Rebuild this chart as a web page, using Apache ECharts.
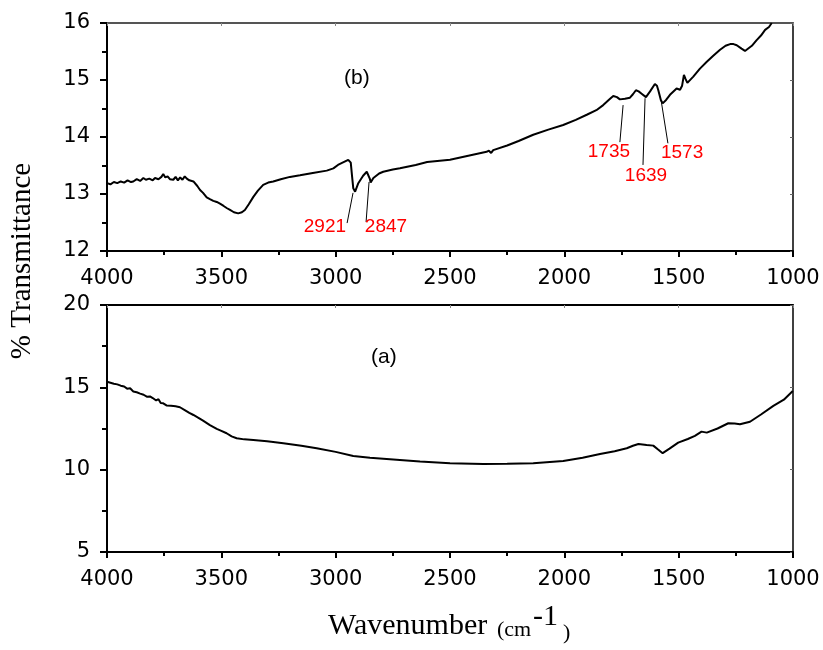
<!DOCTYPE html>
<html><head><meta charset="utf-8">
<script src="https://cdn.jsdelivr.net/npm/echarts@6/dist/echarts.min.js"></script>
<style>html,body{margin:0;padding:0;background:#fff}#c{width:823px;height:650px}</style>
</head><body><div id="c"></div>
<script>
// ---- data ----
const xTicks = [4000, 3500, 3000, 2500, 2000, 1500, 1000];
const topYTicks = [12, 13, 14, 15, 16];
const botYTicks = [5, 10, 15, 20];

const waveB = [4000,3985,3970,3955,3940,3925,3910,3895,3885,3870,3855,3841,3830,3815,3800,3790,3775,3762,3754,3745,3735,3725,3710,3700,3690,3680,3670,3660,3651,3640,3622,3605,3593,3580,3564,3550,3535,3520,3506,3490,3475,3462,3445,3426,3410,3397,3380,3360,3340,3317,3295,3273,3240,3200,3156,3100,3039,3010,2990,2970,2945,2934,2928,2923,2915,2901,2880,2864,2857,2850,2847,2835,2810,2792,2750,2719,2650,2600,2500,2400,2340,2330,2320,2311,2250,2200,2136,2070,2005,1950,1902,1860,1830,1800,1786,1770,1757,1735,1713,1700,1687,1675,1662,1643,1625,1604,1595,1589,1578,1570,1555,1538,1509,1494,1485,1477,1470,1462,1436,1407,1377,1350,1319,1295,1275,1260,1246,1225,1210,1203,1180,1159,1140,1122,1105,1093];
const transB = [13.19,13.17,13.21,13.19,13.22,13.20,13.24,13.21,13.22,13.26,13.23,13.28,13.25,13.27,13.24,13.28,13.26,13.30,13.35,13.29,13.31,13.26,13.25,13.30,13.24,13.29,13.25,13.31,13.27,13.24,13.22,13.14,13.07,13.02,12.94,12.91,12.88,12.86,12.83,12.79,12.75,12.72,12.68,12.66,12.68,12.72,12.82,12.95,13.06,13.16,13.20,13.22,13.26,13.30,13.33,13.37,13.41,13.45,13.51,13.55,13.60,13.55,13.30,13.10,13.04,13.19,13.32,13.39,13.36,13.26,13.20,13.28,13.36,13.39,13.43,13.45,13.51,13.56,13.60,13.69,13.74,13.76,13.72,13.77,13.85,13.93,14.04,14.13,14.21,14.30,14.39,14.47,14.56,14.67,14.72,14.70,14.66,14.67,14.69,14.75,14.82,14.80,14.76,14.70,14.80,14.93,14.90,14.82,14.65,14.59,14.65,14.74,14.85,14.83,14.90,15.09,15.02,14.95,15.06,15.20,15.32,15.42,15.53,15.60,15.63,15.63,15.61,15.55,15.51,15.52,15.60,15.70,15.78,15.88,15.93,16.00];

const waveA = [4000,3985,3970,3955,3940,3925,3912,3899,3885,3870,3855,3840,3826,3812,3800,3785,3775,3765,3754,3740,3720,3700,3681,3660,3640,3622,3600,3580,3550,3520,3500,3477,3455,3433,3400,3360,3300,3229,3150,3083,3000,2923,2850,2719,2631,2500,2354,2250,2136,2005,1920,1844,1780,1727,1700,1676,1640,1611,1590,1570,1540,1502,1460,1429,1400,1377,1330,1283,1255,1232,1188,1140,1086,1040,1001];
const transA = [15.34,15.28,15.22,15.18,15.10,15.05,14.92,14.94,14.75,14.70,14.62,14.55,14.43,14.45,14.35,14.20,14.28,14.05,14.03,13.90,13.88,13.85,13.79,13.62,13.45,13.32,13.15,12.98,12.71,12.48,12.36,12.21,12.02,11.91,11.84,11.80,11.72,11.60,11.45,11.30,11.08,10.83,10.72,10.59,10.49,10.39,10.35,10.36,10.39,10.53,10.72,10.95,11.12,11.30,11.45,11.56,11.50,11.46,11.22,11.00,11.28,11.64,11.86,12.05,12.31,12.25,12.50,12.82,12.80,12.76,12.91,13.35,13.87,14.25,14.78];

// peak annotations (panel b): label, label position, leader line start/end
const peakLabels = ['2921', '2847', '1735', '1639', '1573'];
const peakLabelPos = [[3047, 12.42], [2780, 12.42], [1805, 13.74], [1643, 13.32], [1485, 13.72]];
const peakLeaders = [
  [[2950, 12.49], [2924, 13.02]],
  [[2867, 12.51], [2854, 13.21]],
  [[1757, 13.91], [1743, 14.56]],
  [[1656, 13.51], [1647, 14.68]],
  [[1547, 13.89], [1577, 14.65]]
];
const panelLabels = ['(b)', '(a)'];
const panelLabelPos = [[2907, 15.04], [2789, 16.84]];

// ---- chart ----
const tickFont = {fontFamily: 'DejaVu Sans', fontSize: 21, color: '#000', formatter: v => String(v)};
function mainX(gi) {
  return {
    type: 'value', gridIndex: gi, inverse: true, min: 1000, max: 4000, interval: 500,
    axisLine: {show: true, onZero: false, lineStyle: {color: '#000', width: 2}},
    axisTick: {show: true, inside: false, length: 6, lineStyle: {color: '#000', width: 2}},
    minorTick: {show: true, splitNumber: 2, length: 4, lineStyle: {color: '#000', width: 2}},
    axisLabel: Object.assign({margin: 17}, tickFont),
    splitLine: {show: false}
  };
}
function topX(gi, col) {
  return {
    type: 'value', gridIndex: gi, position: 'top', inverse: true, min: 1000, max: 4000, interval: 500,
    axisLine: {show: true, onZero: false, lineStyle: {color: col, width: 2}},
    axisTick: {show: true, inside: true, length: 3, lineStyle: {color: '#888', width: 1}},
    axisLabel: {show: false}, splitLine: {show: false}
  };
}
function mainY(gi, mn, mx, iv) {
  return {
    type: 'value', gridIndex: gi, min: mn, max: mx, interval: iv,
    axisLine: {show: true, onZero: false, lineStyle: {color: '#000', width: 2}},
    axisTick: {show: true, inside: false, length: 7, lineStyle: {color: '#000', width: 2}},
    minorTick: {show: true, splitNumber: 2, length: 5, lineStyle: {color: '#000', width: 2}},
    axisLabel: Object.assign({margin: 17}, tickFont),
    splitLine: {show: false}
  };
}
function rightY(gi, mn, mx, iv) {
  return {
    type: 'value', gridIndex: gi, position: 'right', min: mn, max: mx, interval: iv,
    axisLine: {show: true, onZero: false, lineStyle: {color: '#000', width: 1.5}},
    axisTick: {show: true, inside: true, length: 3, lineStyle: {color: '#666', width: 1}},
    axisLabel: {show: false}, splitLine: {show: false}
  };
}

const chart = echarts.init(document.getElementById('c'), null, {renderer: 'canvas'});
chart.setOption({
  animation: false,
  backgroundColor: '#fff',
  grid: [
    {left: 107, right: 30, top: 23, height: 228},
    {left: 107, right: 30, top: 305, height: 247}
  ],
  xAxis: [mainX(0), mainX(1), topX(0, '#555'), topX(1, '#000')],
  yAxis: [mainY(0, 12, 16, 1), mainY(1, 5, 20, 5), rightY(0, 12, 16, 1), rightY(1, 5, 20, 5)],
  series: [
    {
      type: 'line', xAxisIndex: 0, yAxisIndex: 0, showSymbol: false, symbol: 'none',
      lineStyle: {color: '#000', width: 2}, clip: true,
      data: waveB.map((w, i) => [w, transB[i]]),
      markLine: {
        silent: true, symbol: ['none', 'none'], label: {show: false},
        lineStyle: {color: '#000', width: 1, type: 'solid'},
        data: peakLeaders.map(s => [{coord: s[0]}, {coord: s[1]}])
      },
      markPoint: {
        silent: true, symbol: 'circle', symbolSize: 0,
        data: peakLabels.map((t, i) => ({
          coord: peakLabelPos[i], value: t,
          label: {show: true, position: 'inside', formatter: t, color: '#ff0000', fontFamily: 'Liberation Sans', fontSize: 19}
        })).concat([{
          coord: panelLabelPos[0], value: panelLabels[0],
          label: {show: true, position: 'inside', formatter: panelLabels[0], color: '#000', fontFamily: 'Liberation Sans', fontSize: 21}
        }])
      }
    },
    {
      type: 'line', xAxisIndex: 1, yAxisIndex: 1, showSymbol: false, symbol: 'none',
      lineStyle: {color: '#000', width: 2},
      data: waveA.map((w, i) => [w, transA[i]]),
      markPoint: {
        silent: true, symbol: 'circle', symbolSize: 0,
        data: [{
          coord: panelLabelPos[1], value: panelLabels[1],
          label: {show: true, position: 'inside', formatter: panelLabels[1], color: '#000', fontFamily: 'Liberation Sans', fontSize: 21}
        }]
      }
    }
  ],
  graphic: [
    {type: 'text', x: 22, y: 261, rotation: Math.PI / 2,
     style: {text: '% Transmittance', font: '29px "Liberation Serif"', fill: '#000', align: 'center', verticalAlign: 'middle'}},
    {type: 'text', x: 328, y: 626,
     style: {text: 'Wavenumber', font: '30px "Liberation Serif"', fill: '#000', align: 'left', verticalAlign: 'middle'}},
    {type: 'text', x: 497, y: 630,
     style: {text: '(cm', font: '22px "Liberation Serif"', fill: '#000', align: 'left', verticalAlign: 'middle'}},
    {type: 'text', x: 533, y: 617,
     style: {text: '-1', font: '30px "Liberation Serif"', fill: '#000', align: 'left', verticalAlign: 'middle'}},
    {type: 'text', x: 563, y: 633,
     style: {text: ')', font: '22px "Liberation Serif"', fill: '#000', align: 'left', verticalAlign: 'middle'}}
  ]
});
</script></body></html>
